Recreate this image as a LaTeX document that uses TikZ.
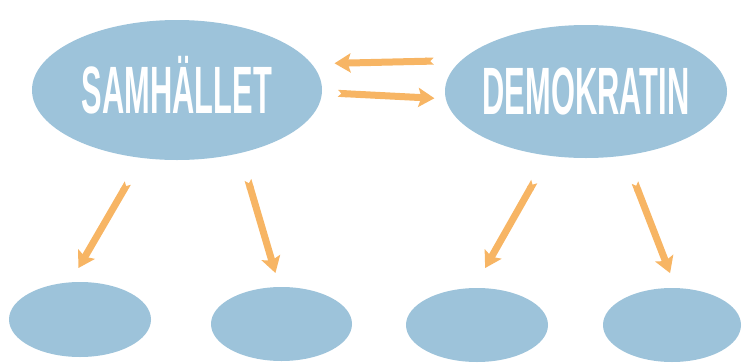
\documentclass[tikz,border=0pt]{standalone}
\usepackage{fontspec}
\newfontfamily\bannerfont[FakeStretch=0.46]{Liberation Sans}
\usetikzlibrary{shapes.geometric, arrows.meta}
\definecolor{blobblue}{RGB}{157,195,218}
\definecolor{arroworange}{RGB}{247,181,100}
\tikzstyle{bigblob} = [ellipse,fill=blobblue,inner sep=0pt,outer sep=0pt,text=white,font=\bannerfont\bfseries\fontsize{67}{67}\selectfont,text height=46pt,text depth=0pt]
\tikzstyle{smallblob} = [ellipse,fill=blobblue,inner sep=0pt,outer sep=0pt,minimum height=74pt]
\tikzstyle{flowarrow} = [draw=arroworange,line width=7pt,{Triangle Cap[reversed]}-{Stealth[length=16pt,width=19pt,inset=3pt]}]

\begin{document}
\begin{tikzpicture}[x=1pt,y=-1pt]
		\useasboundingbox (0,0) rectangle (742,362);

		\node[bigblob,minimum width=290pt,minimum height=140pt] (s) at (177,90) {\makebox[0pt]{SAMHÄLLET}};
		\node[bigblob,minimum width=282pt,minimum height=133pt] (d) at (586,91.5) {\makebox[0pt]{DEMOKRATIN}};

		\node[smallblob,minimum width=142pt,minimum height=75pt] (s1) at (80,319.5) {};
		\node[smallblob,minimum width=141pt] (s2) at (281.5,324) {};
		\node[smallblob,minimum width=142pt] (d1) at (477,325) {};
		\node[smallblob,minimum width=138pt] (d2) at (672,325) {};

		\draw[flowarrow,shorten <=27.6pt,shorten >=23pt] (d.166.9) -- (s.11.9);
		\draw[flowarrow,shorten <=16pt,shorten >=11.4pt] (s.359.3) -- (d.183.8);

		\draw[flowarrow,shorten <=29pt,shorten >=16.6pt] (s.243.2) -- (s1.105.4);
		\draw[flowarrow,shorten <=28pt,shorten >=14.6pt] (s.315.1) -- (s2.93.9);
		\draw[flowarrow,shorten <=29.8pt,shorten >=23pt] (d.240) -- (d1.95.6);
		\draw[flowarrow,shorten <=29pt,shorten >=16pt] (d.301.9) -- (d2.84.7);
	\end{tikzpicture}
\end{document}
